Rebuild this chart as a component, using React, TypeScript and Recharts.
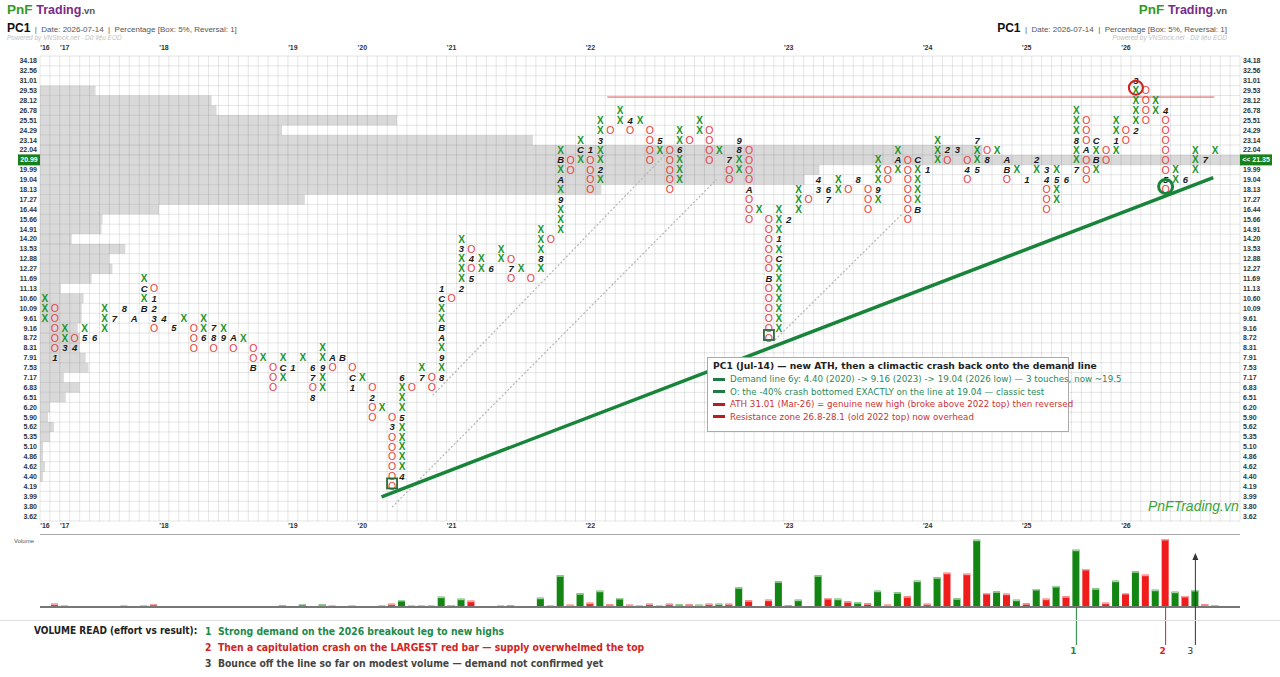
import React from "react";
import {
  ComposedChart,
  Scatter,
  Bar,
  Cell,
  XAxis,
  YAxis,
  ReferenceLine,
  ReferenceArea,
  ReferenceDot,
} from "recharts";

// price ladder (5% boxes), row 0 = lowest
const priceLevels = [
  "3.62", "3.80", "3.99", "4.19", "4.40", "4.62", "4.86", "5.10", "5.35", "5.62",
  "5.90", "6.20", "6.51", "6.83", "7.17", "7.53", "7.91", "8.31", "8.72", "9.16",
  "9.61", "10.09", "10.60", "11.13", "11.69", "12.27", "12.88", "13.53", "14.20", "14.91",
  "15.66", "16.44", "17.27", "18.13", "19.04", "19.99", "20.99", "22.04", "23.14", "24.29",
  "25.51", "26.78", "28.12", "29.53", "31.01", "32.56", "34.18",
];
const currentRow = 36;
const lastPrice = "21.35";

// columns alternate X / O starting with X; lowest and highest box row of each column
const colLow = [
  20, 16, 17, 17, 18, 18, 19, 20, 21, 20, 21, 19, 20, 19, 20, 17, 18, 17, 18, 17,
  18, 15, 16, 13, 14, 15, 16, 12, 13, 15, 16, 13, 14, 10, 11, 3, 4, 13, 14, 13,
  14, 22, 23, 24, 25, 25, 26, 24, 25, 24, 25, 28, 29, 35, 36, 33, 34, 39, 40, 39,
  40, 36, 37, 33, 34, 38, 39, 36, 37, 34, 35, 30, 31, 18, 19, 30, 31, 32, 33, 32,
  33, 33, 34, 31, 32, 34, 35, 30, 31, 35, 36, 36, 37, 34, 35, 36, 37, 34, 35, 34,
  35, 31, 32, 34, 35, 34, 35, 36, 37, 38, 39, 40, 41, 33, 34, 34, 35, 36, 37,
];
const colHigh = [
  22, 21, 19, 18, 19, 18, 21, 20, 21, 20, 24, 23, 20, 19, 20, 19, 20, 19, 19, 18,
  18, 17, 16, 15, 16, 15, 16, 15, 17, 16, 16, 15, 14, 13, 11, 10, 14, 13, 15, 14,
  23, 22, 28, 27, 26, 25, 27, 26, 25, 24, 29, 28, 37, 36, 38, 37, 40, 39, 41, 40,
  40, 39, 38, 37, 39, 38, 40, 39, 37, 36, 38, 37, 31, 30, 31, 30, 33, 32, 34, 33,
  34, 33, 34, 33, 36, 35, 37, 36, 36, 35, 38, 37, 37, 36, 38, 37, 37, 36, 35, 34,
  36, 35, 35, 34, 41, 40, 38, 37, 40, 39, 44, 43, 42, 41, 35, 34, 37, 36, 37,
];

// month markers [column, row, label]
const monthMarks: [number, number, string][] = [
  [1, 16, "1"], [2, 17, "3"], [3, 17, "4"], [4, 18, "5"], [5, 18, "6"], [7, 20, "7"],
  [8, 21, "8"], [9, 20, "A"], [10, 21, "B"], [10, 23, "C"], [11, 22, "1"], [11, 21, "2"],
  [11, 20, "3"], [12, 20, "4"], [13, 19, "5"], [16, 18, "6"], [17, 19, "7"], [17, 18, "8"],
  [18, 18, "9"], [19, 18, "A"], [21, 15, "B"], [24, 15, "C"], [25, 15, "1"], [27, 15, "6"],
  [27, 14, "7"], [27, 12, "8"], [28, 15, "9"], [29, 16, "A"], [30, 16, "B"], [31, 14, "C"],
  [31, 13, "1"], [33, 12, "2"], [35, 9, "3"], [36, 4, "4"], [36, 10, "5"], [36, 14, "6"],
  [38, 14, "7"], [40, 14, "8"], [40, 16, "9"], [40, 18, "A"], [40, 19, "B"], [40, 22, "C"],
  [40, 23, "1"], [42, 23, "2"], [42, 27, "3"], [43, 26, "4"], [43, 24, "5"], [45, 25, "6"],
  [47, 25, "7"], [50, 26, "8"], [52, 32, "9"], [52, 34, "A"], [52, 36, "B"], [54, 37, "C"],
  [55, 37, "1"], [56, 35, "2"], [56, 38, "3"], [59, 40, "4"], [62, 38, "5"], [64, 37, "6"],
  [69, 36, "7"], [70, 37, "8"], [70, 38, "9"], [71, 33, "A"], [73, 24, "B"], [74, 26, "C"],
  [74, 28, "1"], [75, 30, "2"], [78, 33, "3"], [78, 34, "4"], [79, 33, "6"], [79, 32, "7"],
  [82, 34, "8"], [84, 33, "9"], [86, 36, "A"], [88, 31, "B"], [88, 36, "C"], [89, 35, "1"],
  [91, 37, "2"], [92, 37, "3"], [93, 35, "4"], [94, 35, "5"], [94, 38, "7"], [95, 36, "8"],
  [97, 36, "A"], [97, 35, "B"], [99, 34, "1"], [100, 36, "2"], [101, 35, "3"], [101, 34, "4"],
  [102, 34, "5"], [103, 34, "6"], [104, 35, "7"], [104, 38, "8"], [105, 37, "A"], [106, 36, "B"],
  [106, 38, "C"], [108, 38, "1"], [110, 39, "2"], [110, 44, "3"], [113, 41, "4"], [113, 34, "5"],
  [115, 34, "6"], [117, 36, "7"],
];

// volume traded at each price row (horizontal profile)
const priceVolume = [
  0, 0, 0, 0, 0.3, 0.5, 0.3, 0.3, 1.0, 1.4, 0.8, 1.0, 2.6, 4.0, 2.4, 4.9, 4.6, 4.0, 4.0, 3.8,
  4.2, 4.2, 4.4, 2.1, 5.2, 7.3, 7.0, 8.6, 3.2, 6.2, 6.3, 12.0, 26.7, 56.6, 77.1, 78.6, 121, 95,
  49.7, 24.4, 36, 17.8, 17.3, 5.6, 0, 0, 0,
];

// volume of each column
const columnVolume = [
  0.5, 3.3, 1.3, 0.7, 0.5, 0.3, 0.7, 0.3, 1.3, 0.7, 1.3, 3.0, 0.3, 0.3, 0.3, 0.3, 0.3, 1.0, 1.0, 0.3,
  0.3, 1.0, 0.3, 0.3, 1.7, 0.3, 3.0, 1.0, 2.7, 1.3, 0.3, 1.3, 0.3, 1.0, 1.3, 3.3, 7.0, 1.3, 1.3, 1.3,
  10.3, 2.0, 8.3, 6.3, 1.0, 0.3, 1.3, 1.7, 0.3, 0.3, 9.3, 1.3, 31.7, 2.3, 13.7, 4.3, 16.3, 2.7, 9.0, 2.3,
  1.3, 3.3, 1.3, 3.3, 2.7, 2.7, 2.3, 3.3, 3.3, 3.3, 19.7, 6.7, 0.3, 7.3, 25.7, 1.7, 7.3, 1.0, 31.7, 9.0,
  8.3, 5.7, 4.7, 3.7, 16.3, 2.3, 14.7, 10.7, 26.3, 3.3, 29.7, 34.3, 8.7, 33.3, 67.3, 14.0, 15.7, 13.3, 7.3, 3.7,
  18.0, 8.3, 21.0, 10.7, 57.3, 38.0, 18.7, 4.3, 26.3, 14.0, 35.7, 32.3, 17.3, 68.0, 15.3, 11.0, 17.0, 2.7, 2.0,
];

const yearTicks = [0, 2, 12, 25, 32, 41, 55, 75, 89, 99, 109];
const yearLabels = ["'16", "'17", "'18", "'19", "'20", "'21", "'22", "'23", "'24", "'25", "'26"];

// annotations in (column, row) units
const demandLine = [{ x: 33.94, y: 1.95 }, { x: 117.8, y: 34.2 }];
const dottedLines = [
  [{ x: 39.1, y: 12.2 }, { x: 62.7, y: 36.7 }],
  [{ x: 35.0, y: 0.9 }, { x: 67.7, y: 34.0 }],
  [{ x: 73.6, y: 17.8 }, { x: 86.5, y: 30.6 }],
];
const resistanceLine = [{ x: 56.7, y: 42.35 }, { x: 117.9, y: 42.35 }];
const volumeCallouts = [
  { col: 104, label: "1", color: "#1f8a3a" },
  { col: 113, label: "2", color: "#e02020" },
];
const bounceArrow = { col: 116, top: 54 };

const FONT = "'Liberation Sans', Arial, sans-serif";
const DV = "'DejaVu Sans', sans-serif";
const DVC = "'DejaVu Sans Condensed', 'DejaVu Sans', sans-serif";
const GREEN_X = "#23952a";
const RED_O = "#e5403f";
const COLS = 121;
const ROWS = 47;

const markMap = new Map(monthMarks.map(([c, r, l]) => [`${c}:${r}`, l]));
const boxes: { x: number; y: number; t: string; m?: string }[] = [];
colLow.forEach((lo, c) => {
  const t = c % 2 === 0 ? "X" : "O";
  for (let r = lo; r <= colHigh[c]; r++) {
    boxes.push({ x: c, y: r, t, m: markMap.get(`${c}:${r}`) });
  }
});
const volData = columnVolume.map((v, c) => ({ x: c, v, t: c % 2 === 0 ? "X" : "O" }));

function BoxGlyph(props: any) {
  const { cx, cy, payload } = props;
  if (cx == null || cy == null) return null;
  if (payload.m) {
    return (
      <text x={cx} y={cy} dy="0.36em" textAnchor="middle" fontFamily={FONT} fontSize={9.5}
        fontStyle="italic" fontWeight={700} fill="#1a1a1a">
        {payload.m}
      </text>
    );
  }
  const isX = payload.t === "X";
  return (
    <text x={cx} y={cy} dy="0.36em" textAnchor="middle" fontFamily={FONT}
      fontSize={isX ? 10 : 10.5} fontWeight={isX ? 700 : 400} fill={isX ? GREEN_X : RED_O}>
      {payload.t}
    </text>
  );
}

function LeftTick(props: any) {
  const { x, y, payload } = props;
  const i = payload.value;
  if (i === currentRow) {
    return (
      <g>
        <rect x={18} y={y - 5.5} width={22} height={11} fill="#17801b" />
        <text x={29} y={y} dy="0.35em" textAnchor="middle" fontFamily={FONT} fontSize={7}
          fontWeight={700} fill="#fff">{priceLevels[i]}</text>
      </g>
    );
  }
  return (
    <text x={x} y={y} dy="0.35em" textAnchor="end" fontFamily={FONT} fontSize={7}
      fontWeight={700} fill="#333">{priceLevels[i]}</text>
  );
}

function RightTick(props: any) {
  const { x, y, payload } = props;
  const i = payload.value;
  if (i === currentRow) {
    return (
      <g>
        <rect x={1240} y={y - 5.5} width={32} height={11} fill="#17801b" />
        <text x={1256} y={y} dy="0.35em" textAnchor="middle" fontFamily={FONT} fontSize={7}
          fontWeight={700} fill="#fff">{"<< " + lastPrice}</text>
      </g>
    );
  }
  return (
    <text x={x} y={y} dy="0.35em" textAnchor="start" fontFamily={FONT} fontSize={7}
      fontWeight={700} fill="#333">{priceLevels[i]}</text>
  );
}

function YearTick(props: any) {
  const { x, y, payload, top } = props;
  const i = yearTicks.indexOf(payload.value);
  return (
    <text x={x} y={top ? y - 4 : y + 5} textAnchor="middle" fontFamily={FONT} fontSize={7}
      fontWeight={700} fill="#333">{yearLabels[i]}</text>
  );
}

function VolBar(props: any) {
  const { x, y, width, height, payload } = props;
  if (!height || height <= 0) return null;
  const isX = payload.t === "X";
  return (
    <g>
      <rect x={x} y={y} width={width} height={height} fill={isX ? "#138513" : "#f01c1c"} />
      <rect x={x} y={y} width={width} height={Math.min(1.5, height)} fill={isX ? "#9fd39f" : "#f8a0a0"} />
    </g>
  );
}

const abs = (left: number, top: number, extra: React.CSSProperties = {}): React.CSSProperties => ({
  position: "absolute",
  left,
  top,
  whiteSpace: "nowrap",
  ...extra,
});

function Header({ right }: { right?: boolean }) {
  const side: React.CSSProperties = right ? { right: 53, left: "auto", textAlign: "right" } : {};
  return (
    <>
      <div style={{ ...abs(7, 2), ...side, fontFamily: FONT, fontWeight: 700, fontSize: 13.5, lineHeight: "16px" }}>
        <span style={{ color: "#2f9b1f" }}>PnF </span>
        <span style={{ color: "#7a2a89", fontSize: 12.5 }}>Trading</span>
        <span style={{ color: "#555", fontSize: 9.5 }}>.vn</span>
      </div>
      <div style={{ ...abs(7, 20), ...side, fontFamily: FONT, lineHeight: "13px" }}>
        <span style={{ fontWeight: 700, fontSize: 12, color: "#111" }}>PC1</span>
        <span style={{ fontSize: 8, color: "#555", whiteSpace: "pre" }}>
          {"  |  Date: 2026-07-14  |  Percentage [Box: 5%, Reversal: 1]"}
        </span>
      </div>
      <div style={{ ...abs(7, 34), ...side, fontFamily: FONT, fontStyle: "italic", fontSize: 6.5, lineHeight: "7px", color: "#c2c2c2" }}>
        Powered by VNStock.net - Dữ liệu EOD
      </div>
    </>
  );
}

function Legend() {
  const rows = [
    { c: "#2a8a5a", m: "#1f7a45", t: "Demand line 6y: 4.40 (2020) -> 9.16 (2023) -> 19.04 (2026 low) — 3 touches, now ~19.5" },
    { c: "#2a8a5a", m: "#1f7a45", t: "O: the -40% crash bottomed EXACTLY on the line at 19.04 — classic test" },
    { c: "#cc3333", m: "#b51f1f", t: "ATH 31.01 (Mar-26) = genuine new high (broke above 2022 top) then reversed" },
    { c: "#cc3333", m: "#b51f1f", t: "Resistance zone 26.8-28.1 (old 2022 top) now overhead" },
  ];
  return (
    <div style={{ ...abs(707, 357), width: 360, height: 73, border: "1px solid #aaa", background: "#fff" }}>
      <div style={{ ...abs(5, 2), fontFamily: DV, fontWeight: 700, fontSize: 9.2, color: "#222" }}>
        PC1 (Jul-14) — new ATH, then a climactic crash back onto the demand line
      </div>
      {rows.map((r, i) => (
        <div key={i} style={{ ...abs(5, 16 + i * 12.5), fontFamily: DV, fontSize: 8.7, color: r.c, display: "flex", alignItems: "center" }}>
          <span style={{ display: "inline-block", width: 12, height: 3, background: r.m, marginRight: 5 }} />
          {r.t}
        </div>
      ))}
    </div>
  );
}

export default function App() {
  const colEdges = Array.from({ length: COLS + 1 }, (_, i) => i - 0.5);
  const rowEdges = Array.from({ length: ROWS + 1 }, (_, i) => i - 0.5);
  const rowTicks = priceLevels.map((_, i) => i);

  return (
    <div style={{ position: "fixed", left: 0, top: 0, width: 1280, height: 677, background: "#fff", overflow: "hidden" }}>
      <Header />
      <Header right />

      <div style={abs(0, 0)}>
        <ComposedChart width={1280} height={540} data={boxes} margin={{ top: 40, right: 0, bottom: 5, left: 0 }}>
          <XAxis xAxisId="b" dataKey="x" type="number" domain={[-0.5, COLS - 0.5]} allowDataOverflow
            ticks={yearTicks} tick={<YearTick />} axisLine={false} tickLine={false} tickSize={0} tickMargin={2} height={14} interval={0} />
          <XAxis xAxisId="t" dataKey="x" orientation="top" type="number" domain={[-0.5, COLS - 0.5]} allowDataOverflow
            ticks={yearTicks} tick={<YearTick top />} axisLine={false} tickLine={false} tickSize={0} tickMargin={2} height={16} interval={0} />
          <XAxis xAxisId="pv" dataKey="x" type="number" domain={[0, COLS]} allowDataOverflow hide />
          <YAxis yAxisId="l" dataKey="y" type="number" domain={[-0.5, ROWS - 0.5]} allowDataOverflow
            ticks={rowTicks} tick={<LeftTick />} axisLine={false} tickLine={false} tickSize={0} tickMargin={3} width={40} interval={0} />
          <YAxis yAxisId="r" dataKey="y" orientation="right" type="number" domain={[-0.5, ROWS - 0.5]} allowDataOverflow
            ticks={rowTicks} tick={<RightTick />} axisLine={false} tickLine={false} tickSize={0} tickMargin={3} width={40} interval={0} />

          {priceVolume.map((v, r) =>
            v > 0 ? (
              <ReferenceArea key={`pv${r}`} xAxisId="pv" yAxisId="l" x1={0} x2={v} y1={r - 0.5} y2={r + 0.5}
                fill="#d9d9d9" fillOpacity={1} stroke="none" ifOverflow="hidden" />
            ) : null
          )}
          {colEdges.map((c) => (
            <ReferenceLine key={`gx${c}`} xAxisId="b" yAxisId="l" x={c} stroke="#000" strokeOpacity={0.1} strokeWidth={1} />
          ))}
          {rowEdges.map((r) => (
            <ReferenceLine key={`gy${r}`} xAxisId="b" yAxisId="l" y={r} stroke="#000" strokeOpacity={0.1} strokeWidth={1} />
          ))}

          {dottedLines.map((seg, i) => (
            <ReferenceLine key={`d${i}`} xAxisId="b" yAxisId="l" segment={seg} stroke="#b5b5b5"
              strokeWidth={1.2} strokeDasharray="2 2" ifOverflow="visible" />
          ))}
          <ReferenceLine xAxisId="b" yAxisId="l" segment={resistanceLine} stroke="#e05555" strokeWidth={1} ifOverflow="visible" />
          <ReferenceLine xAxisId="b" yAxisId="l" segment={demandLine} stroke="#17843a" strokeWidth={3.5} ifOverflow="visible" />

          <Scatter xAxisId="b" yAxisId="l" data={boxes} shape={<BoxGlyph />} isAnimationActive={false} />

          <ReferenceDot xAxisId="b" yAxisId="l" x={110} y={43.3} ifOverflow="visible"
            shape={(p: any) => <circle cx={p.cx} cy={p.cy} r={7} fill="none" stroke="#cc1f1f" strokeWidth={2} />} />
          <ReferenceDot xAxisId="b" yAxisId="l" x={113} y={33.3} ifOverflow="visible"
            shape={(p: any) => <circle cx={p.cx} cy={p.cy} r={7} fill="none" stroke="#17843a" strokeWidth={3} />} />
          <ReferenceDot xAxisId="b" yAxisId="l" x={35} y={3.3} ifOverflow="visible"
            shape={(p: any) => <rect x={p.cx - 5} y={p.cy - 5} width={10} height={10} fill="none" stroke="#2a6a3c" strokeWidth={1.8} />} />
          <ReferenceDot xAxisId="b" yAxisId="l" x={73} y={18.3} ifOverflow="visible"
            shape={(p: any) => <rect x={p.cx - 5} y={p.cy - 5} width={10} height={10} fill="none" stroke="#2a6a3c" strokeWidth={1.8} />} />
        </ComposedChart>
      </div>

      <div style={{ ...abs(1148, 498), fontFamily: FONT, fontStyle: "italic", fontSize: 14, color: "#3aa33a" }}>
        PnFTrading.vn
      </div>

      <Legend />

      {/* volume panel */}
      <div style={{ ...abs(40, 534), width: 1200, height: 1, background: "#aaa" }} />
      <div style={{ ...abs(14, 538), fontFamily: FONT, fontSize: 6, color: "#555" }}>Volume</div>
      <div style={abs(0, 530)}>
        <ComposedChart width={1280} height={130} data={volData} margin={{ top: 8, right: 40, bottom: 5, left: 40 }}>
          <XAxis dataKey="x" type="number" domain={[-0.5, COLS - 0.5]} allowDataOverflow hide />
          <YAxis type="number" domain={[-48, 69]} allowDataOverflow hide />
          <ReferenceLine y={0} stroke="#777" strokeWidth={2} />
          <Bar dataKey="v" barSize={7} shape={<VolBar />} isAnimationActive={false}>
            {volData.map((d, i) => (
              <Cell key={i} fill={d.t === "X" ? "#138513" : "#f01c1c"} />
            ))}
          </Bar>
          {volumeCallouts.map((c) => (
            <ReferenceLine key={c.label} segment={[{ x: c.col, y: 0 }, { x: c.col, y: -38 }]} stroke={c.color} strokeWidth={1} ifOverflow="visible" />
          ))}
          {volumeCallouts.map((c) => (
            <ReferenceDot key={`l${c.label}`} x={c.col - 0.3} y={-44} ifOverflow="visible"
              shape={(p: any) => (
                <text x={p.cx} y={p.cy} dy="0.35em" textAnchor="middle" fontFamily={DV} fontWeight={700} fontSize={9} fill={c.color}>{c.label}</text>
              )} />
          ))}
          <ReferenceLine segment={[{ x: bounceArrow.col, y: -38 }, { x: bounceArrow.col, y: bounceArrow.top - 3 }]} stroke="#333" strokeWidth={1} ifOverflow="visible" />
          <ReferenceDot x={bounceArrow.col} y={bounceArrow.top} ifOverflow="visible"
            shape={(p: any) => <polygon points={`${p.cx},${p.cy} ${p.cx - 3},${p.cy + 7} ${p.cx + 3},${p.cy + 7}`} fill="#333" />} />
          <ReferenceDot x={bounceArrow.col - 0.5} y={-44} ifOverflow="visible"
            shape={(p: any) => (
              <text x={p.cx} y={p.cy} dy="0.35em" textAnchor="middle" fontFamily={DV} fontSize={9} fill="#333">3</text>
            )} />
        </ComposedChart>
      </div>

      <div style={{ ...abs(0, 620), width: 1280, height: 1, background: "#ddd" }} />
      <div style={{ ...abs(34, 625), fontFamily: DVC, fontWeight: 700, fontSize: 10, color: "#222" }}>
        VOLUME READ (effort vs result):
      </div>
      <div style={{ ...abs(205, 625), fontFamily: DVC, fontWeight: 700, fontSize: 10.3, color: "#1e8a48" }}>
        1&nbsp;&nbsp;Strong demand on the 2026 breakout leg to new highs
      </div>
      <div style={{ ...abs(205, 641), fontFamily: DVC, fontWeight: 700, fontSize: 10.3, color: "#d42424" }}>
        2&nbsp;&nbsp;Then a capitulation crash on the LARGEST red bar — supply overwhelmed the top
      </div>
      <div style={{ ...abs(205, 657), fontFamily: DVC, fontWeight: 700, fontSize: 10.3, color: "#444" }}>
        3&nbsp;&nbsp;Bounce off the line so far on modest volume — demand not confirmed yet
      </div>
    </div>
  );
}
